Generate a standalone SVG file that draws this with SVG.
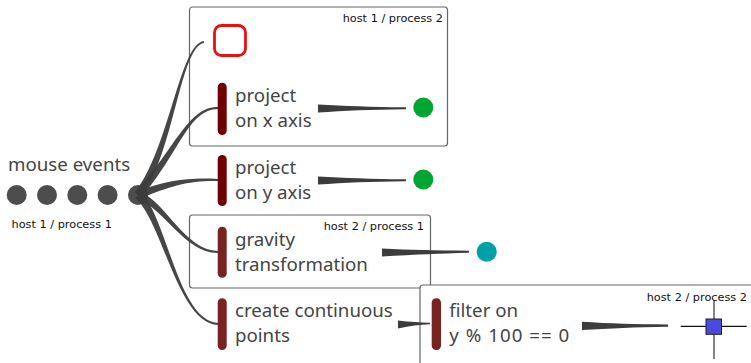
<svg xmlns="http://www.w3.org/2000/svg" width="751" height="363" viewBox="0 0 751 363">
<style>
.box{fill:#fff;stroke:#666;stroke-width:1.2}
.hl{font-family:"DejaVu Sans",sans-serif;font-size:11.3px;fill:#111;text-anchor:end}
.lbl{font-family:"Noto Sans","Open Sans",sans-serif;font-size:18.7px;fill:#444}
.dot{fill:#4d4d4d}
.bar1{fill:#700000}
.bar2{fill:#782222}
.rib{fill:#3c3c3c;opacity:0.95}
.wedge{fill:#3c3c3c}
.green{fill:#00a532}
</style>
<rect width="751" height="363" fill="#fff"/>

<g id="box-h1p2"><rect class="box" x="189.5" y="7" width="258" height="139" rx="3"/><text class="hl" x="443" y="22">host 1 / process 2</text></g>
<g id="box-h2p1"><rect class="box" x="189.5" y="215" width="241" height="73" rx="3"/><text class="hl" x="424" y="230">host 2 / process 1</text></g>
<g id="box-h2p2"><rect class="box" x="420" y="285" width="340" height="90" rx="3"/><text class="hl" x="747" y="301">host 2 / process 2</text></g>

<g id="source">
<text class="lbl" x="8" y="171">mouse events</text>
<circle class="dot" cx="16.7" cy="195" r="10"/>
<circle class="dot" cx="47" cy="195" r="10"/>
<circle class="dot" cx="77.3" cy="195" r="10"/>
<circle class="dot" cx="107.6" cy="195" r="10"/>
<circle class="dot" cx="138" cy="195" r="10"/>
<text class="hl" x="11.5" y="227.5" style="text-anchor:start">host 1 / process 1</text>
</g>

<g id="connectors">
<path class="rib" d="M141.2,197.4 C174.4,151.8 180.2,46.5 204.1,43 L203.9,41 C179.8,43.5 169.6,148.2 134.8,192.6 Z"/>
<path class="rib" d="M141,197.7 C180.2,152 188,109.5 218,109 L218,107 C188,106.5 175.8,148 135,192.3 Z"/>
<path class="rib" d="M139.4,198.7 C171.1,185.8 188,180.5 218,181 L218,179 C188,177.5 169,180.2 136.6,191.3 Z"/>
<path class="rib" d="M136.6,198.8 C164,207.8 185,253.5 218,253 L218,251 C185,250.5 166,202.2 139.4,191.3 Z"/>
<path class="rib" d="M135.3,197.9 C163,222.2 177.9,323.5 218,325 L218,323 C178.1,320.5 167,217.8 140.7,192.1 Z"/>
<path class="wedge" d="M318,104.5 L318,112.5 C345,111 370,109.5 406,109.3 L406,107.3 C370,107 345,106 318,104.5 Z"/>
<path class="wedge" d="M318,176.5 L318,184.5 C345,183 370,181.5 406,181.3 L406,179.3 C370,179 345,178 318,176.5 Z"/>
<path class="wedge" d="M382,248.5 L382,256.5 C410,255 435,253.5 469,252.7 L469,250.7 C435,250.5 410,250 382,248.5 Z"/>
<path class="wedge" d="M398,320.5 L398,328.5 C410,326 420,324.5 430,324.3 L430,322.8 C420,322.5 410,322 398,320.5 Z"/>
<path class="wedge" d="M582,321.7 L582,330 C610,328.5 635,327 668,326.7 L668,324.5 C635,324 610,323.5 582,321.7 Z"/>
</g>

<g id="sink-start"><rect x="214.5" y="25.5" width="31" height="30" rx="7" fill="#fff" stroke="#e81010" stroke-width="2.8"/></g>

<g id="project-x"><rect class="bar1" x="217.7" y="82.7" width="9" height="52.3" rx="4.5"/><text class="lbl" x="235" y="102">project</text><text class="lbl" x="235" y="127">on x axis</text></g>
<g id="sink-x"><circle class="green" cx="423.3" cy="107.5" r="10"/></g>

<g id="project-y"><rect class="bar1" x="217.7" y="155" width="9" height="51" rx="4.5"/><text class="lbl" x="235" y="174">project</text><text class="lbl" x="235" y="199">on y axis</text></g>
<g id="sink-y"><circle class="green" cx="423.3" cy="179.5" r="10"/></g>

<g id="gravity"><rect class="bar2" x="217.7" y="226.7" width="9" height="51" rx="4.5"/><text class="lbl" x="235" y="246">gravity</text><text class="lbl" x="235" y="271">transformation</text></g>
<g id="sink-gravity"><circle cx="486.7" cy="251.7" r="10" fill="#00a0a8"/></g>

<g id="create"><rect class="bar2" x="217.7" y="298.3" width="9" height="51.7" rx="4.5"/><text class="lbl" x="235" y="317">create continuous</text><text class="lbl" x="235" y="342">points</text></g>

<g id="filter"><rect class="bar2" x="431.7" y="298.3" width="9.3" height="51.7" rx="4.5"/><text class="lbl" x="449.3" y="317">filter on</text><text class="lbl" x="449.3" y="342" textLength="120" lengthAdjust="spacing">y % 100 == 0</text></g>

<g id="sink-filter">
<line x1="680.7" y1="326.3" x2="746.7" y2="326.3" stroke="#111" stroke-width="1.2"/>
<line x1="714" y1="300" x2="714" y2="359" stroke="#333" stroke-width="1.2"/>
<rect x="706" y="319" width="15.5" height="15.3" fill="#4a4adc" stroke="#222" stroke-width="1"/>
</g>
</svg>
